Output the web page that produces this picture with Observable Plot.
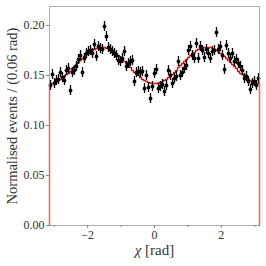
<!DOCTYPE html>
<html><head><meta charset="utf-8">
<script src="https://cdn.jsdelivr.net/npm/d3@7"></script>
<script src="https://cdn.jsdelivr.net/npm/@observablehq/plot@0.6"></script>
<style>html,body{margin:0;padding:0;background:#fff} svg{display:block} svg text{font-family:'Liberation Serif','DejaVu Serif',serif !important}</style>
</head><body><div id="chart"></div>
<script>
const xMin = -Math.PI, xMax = Math.PI;
const dataValues = [
  0.140,0.151,0.142,0.145,0.146,0.153,0.148,0.145,0.155,0.157,
  0.135,0.153,0.155,0.159,0.166,0.170,0.153,0.167,0.172,0.174,
  0.175,0.172,0.181,0.169,0.179,0.177,0.176,0.199,0.189,0.178,
  0.176,0.174,0.172,0.170,0.165,0.164,0.167,0.174,0.159,0.162,
  0.164,0.165,0.144,0.153,0.154,0.153,0.154,0.137,0.150,0.138,
  0.127,0.139,0.152,0.156,0.137,0.139,0.141,0.134,0.140,0.155,
  0.150,0.142,0.147,0.149,0.164,0.150,0.153,0.157,0.160,0.175,
  0.179,0.170,0.167,0.182,0.167,0.179,0.175,0.168,0.176,0.172,
  0.167,0.174,0.175,0.193,0.176,0.179,0.170,0.156,0.180,0.172,
  0.167,0.172,0.164,0.166,0.162,0.159,0.155,0.147,0.149,0.144,
  0.136,0.142,0.144,0.140,0.147
];
const errHalf = 0.005;
const fitValues = [
  0.142,0.142,0.143,0.144,0.145,0.146,0.147,0.149,0.151,0.152,
  0.154,0.157,0.159,0.161,0.163,0.165,0.167,0.169,0.171,0.172,
  0.174,0.175,0.176,0.177,0.178,0.178,0.178,0.178,0.177,0.177,
  0.176,0.175,0.173,0.172,0.170,0.168,0.166,0.164,0.162,0.160,
  0.158,0.155,0.153,0.151,0.150,0.148,0.146,0.145,0.144,0.143,
  0.1425,0.142,0.142,0.142,0.1425,0.143,0.144,0.145,0.146,0.148,
  0.150,0.151,0.153,0.155,0.158,0.160,0.162,0.164,0.166,0.168,
  0.170,0.172,0.173,0.175,0.176,0.177,0.177,0.178,0.178,0.178,
  0.178,0.177,0.176,0.175,0.174,0.172,0.171,0.169,0.167,0.165,
  0.163,0.161,0.159,0.157,0.154,0.152,0.151,0.149,0.147,0.146,
  0.145,0.144,0.143,0.142,0.142
];
const xTicks = [-2, 0, 2];
const xMinorTicks = [-3, -1, 1, 3];
const yTicks = [0, 0.05, 0.10, 0.15, 0.20];
const yMax = 0.219;
const xLabel = "χ [rad]";
const yLabel = "Normalised events / (0.06 rad)";

const binW = (xMax - xMin) / dataValues.length;
const points = dataValues.map((v, i) => ({x: xMin + (i + 0.5) * binW, y: v}));
const step = [{x: xMin, y: 0},
  ...fitValues.map((v, i) => ({x: xMin + i * binW, y: v})),
  {x: xMax, y: fitValues[fitValues.length - 1]},
  {x: xMax, y: 0}];

const fmtMinus = d => (d < 0 ? "\u2212" + Math.abs(d) : String(d));
const font = "'Liberation Serif', 'DejaVu Serif', serif";

const chart = Plot.plot({
  width: 266, height: 266,
  marginLeft: 49, marginRight: 7, marginTop: 6, marginBottom: 41,
  x: {domain: [xMin, xMax]},
  y: {domain: [0, yMax]},
  style: {fontFamily: font, fontSize: "12px", color: "#333", background: "white"},
  marks: [
    Plot.line(step, {x: "x", y: "y", curve: "step-after", stroke: "#ff0000", strokeWidth: 1.3}),
    Plot.ruleX(points, {x: "x", y1: d => d.y - errHalf, y2: d => d.y + errHalf, stroke: "black", strokeWidth: 1.3}),
    Plot.ruleY(points, {y: "y", x1: d => d.x - binW / 2, x2: d => d.x + binW / 2, stroke: "black", strokeWidth: 1.3}),
    Plot.dot(points, {x: "x", y: "y", r: 1.9, fill: "black"}),
    Plot.frame({stroke: "#999", strokeOpacity: 0.8}),
    Plot.axisX({ticks: xTicks, tickFormat: fmtMinus, tickSize: 3, stroke: "#888", label: null, tickPadding: 2, fontSize: 12}),
    Plot.axisX({ticks: xMinorTicks, tickFormat: () => "", tickSize: 2, stroke: "#888", label: null}),
    Plot.axisY({ticks: yTicks, tickFormat: d => d.toFixed(2), tickSize: 3, stroke: "#888", label: null, tickPadding: 2, fontSize: 12}),
    Plot.text([xLabel], {frameAnchor: "bottom", dy: 29, fontSize: 15, fill: "#333", text: d => d}),
    Plot.text([yLabel], {frameAnchor: "left", dx: -37, rotate: -90, textAnchor: "middle", fontSize: 14.5, fill: "#333", text: d => d})
  ]
});
document.getElementById("chart").appendChild(chart);
d3.select(chart).selectAll("text").each(function() {
  const t = d3.select(this);
  if (t.text() === xLabel) {
    t.text(null);
    t.append("tspan").attr("font-style", "italic").text("χ");
    t.append("tspan").text(" [rad]");
  }
});
</script>
</body></html>
